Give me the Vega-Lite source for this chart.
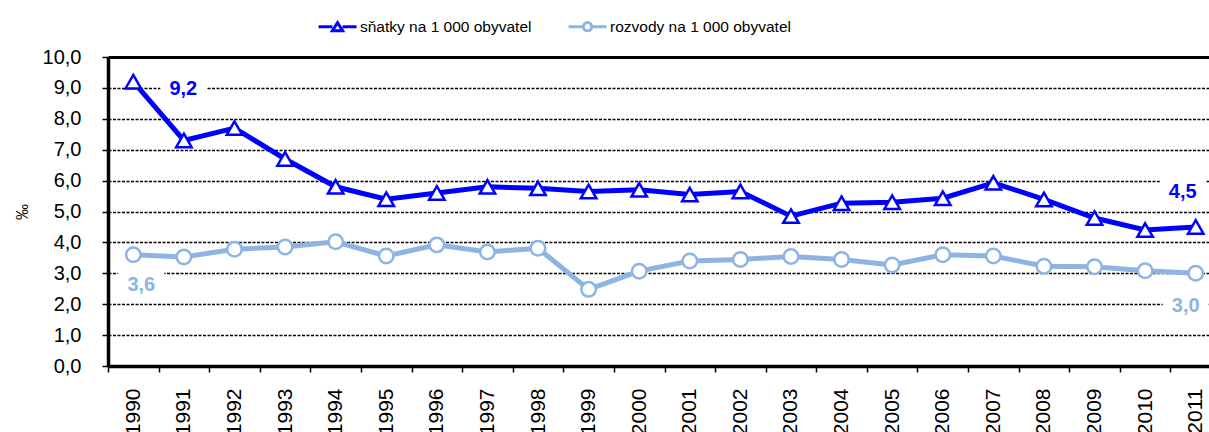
{
  "$schema": "https://vega.github.io/schema/vega-lite/v6.json",
  "autosize": {"type": "none"},
  "width": 1101,
  "height": 309,
  "padding": {"left": 108, "top": 57, "right": 0, "bottom": 66},
  "config": {
    "font": "Liberation Sans",
    "view": {"stroke": null},
    "locale": {"number": {"decimal": ",", "thousands": " ", "grouping": [3], "currency": ["", " Kč"]}}
  },
  "data": {
    "values": [
      {"year": "1990", "series": "sňatky na 1 000 obyvatel", "value": 9.2},
      {"year": "1991", "series": "sňatky na 1 000 obyvatel", "value": 7.3},
      {"year": "1992", "series": "sňatky na 1 000 obyvatel", "value": 7.7},
      {"year": "1993", "series": "sňatky na 1 000 obyvatel", "value": 6.7},
      {"year": "1994", "series": "sňatky na 1 000 obyvatel", "value": 5.8},
      {"year": "1995", "series": "sňatky na 1 000 obyvatel", "value": 5.4},
      {"year": "1996", "series": "sňatky na 1 000 obyvatel", "value": 5.6},
      {"year": "1997", "series": "sňatky na 1 000 obyvatel", "value": 5.8},
      {"year": "1998", "series": "sňatky na 1 000 obyvatel", "value": 5.75},
      {"year": "1999", "series": "sňatky na 1 000 obyvatel", "value": 5.65},
      {"year": "2000", "series": "sňatky na 1 000 obyvatel", "value": 5.7},
      {"year": "2001", "series": "sňatky na 1 000 obyvatel", "value": 5.55},
      {"year": "2002", "series": "sňatky na 1 000 obyvatel", "value": 5.65},
      {"year": "2003", "series": "sňatky na 1 000 obyvatel", "value": 4.85},
      {"year": "2004", "series": "sňatky na 1 000 obyvatel", "value": 5.27},
      {"year": "2005", "series": "sňatky na 1 000 obyvatel", "value": 5.3},
      {"year": "2006", "series": "sňatky na 1 000 obyvatel", "value": 5.43},
      {"year": "2007", "series": "sňatky na 1 000 obyvatel", "value": 5.93},
      {"year": "2008", "series": "sňatky na 1 000 obyvatel", "value": 5.39},
      {"year": "2009", "series": "sňatky na 1 000 obyvatel", "value": 4.79},
      {"year": "2010", "series": "sňatky na 1 000 obyvatel", "value": 4.4},
      {"year": "2011", "series": "sňatky na 1 000 obyvatel", "value": 4.5},
      {"year": "1990", "series": "rozvody na 1 000 obyvatel", "value": 3.6},
      {"year": "1991", "series": "rozvody na 1 000 obyvatel", "value": 3.53},
      {"year": "1992", "series": "rozvody na 1 000 obyvatel", "value": 3.78},
      {"year": "1993", "series": "rozvody na 1 000 obyvatel", "value": 3.85},
      {"year": "1994", "series": "rozvody na 1 000 obyvatel", "value": 4.02},
      {"year": "1995", "series": "rozvody na 1 000 obyvatel", "value": 3.56},
      {"year": "1996", "series": "rozvody na 1 000 obyvatel", "value": 3.92},
      {"year": "1997", "series": "rozvody na 1 000 obyvatel", "value": 3.69},
      {"year": "1998", "series": "rozvody na 1 000 obyvatel", "value": 3.81},
      {"year": "1999", "series": "rozvody na 1 000 obyvatel", "value": 2.48},
      {"year": "2000", "series": "rozvody na 1 000 obyvatel", "value": 3.07},
      {"year": "2001", "series": "rozvody na 1 000 obyvatel", "value": 3.4},
      {"year": "2002", "series": "rozvody na 1 000 obyvatel", "value": 3.45},
      {"year": "2003", "series": "rozvody na 1 000 obyvatel", "value": 3.54},
      {"year": "2004", "series": "rozvody na 1 000 obyvatel", "value": 3.45},
      {"year": "2005", "series": "rozvody na 1 000 obyvatel", "value": 3.27},
      {"year": "2006", "series": "rozvody na 1 000 obyvatel", "value": 3.6},
      {"year": "2007", "series": "rozvody na 1 000 obyvatel", "value": 3.56},
      {"year": "2008", "series": "rozvody na 1 000 obyvatel", "value": 3.23},
      {"year": "2009", "series": "rozvody na 1 000 obyvatel", "value": 3.21},
      {"year": "2010", "series": "rozvody na 1 000 obyvatel", "value": 3.08},
      {"year": "2011", "series": "rozvody na 1 000 obyvatel", "value": 3.0}
    ]
  },
  "encoding": {
    "x": {
      "field": "year", "type": "ordinal",
      "scale": {"type": "band", "paddingInner": 0, "paddingOuter": 0, "range": [0, 1113]},
      "axis": {
        "title": null, "labelAngle": -90, "labelFontSize": 21, "labelColor": "black",
        "labelPadding": 16, "tickSize": 6, "tickColor": "black", "tickWidth": 1.5,
        "domainColor": "black", "domainWidth": 3.5, "tickBand": "extent", "grid": false
      }
    },
    "y": {
      "field": "value", "type": "quantitative",
      "scale": {"domain": [0, 10], "nice": false, "zero": true},
      "axis": {
        "title": "‰", "titleFontSize": 16, "titleFontWeight": "normal", "titleColor": "black", "titlePadding": 12,
        "values": [0, 1, 2, 3, 4, 5, 6, 7, 8, 9, 10], "format": ".1f",
        "labelFontSize": 20, "labelColor": "black", "labelPadding": 21,
        "tickSize": 6, "tickColor": "black", "tickWidth": 1.5,
        "domainColor": "black", "domainWidth": 3.5,
        "grid": true, "gridColor": "black", "gridOpacity": 1,
        "gridDash": {"condition": {"test": "datum.value === 10", "value": []}, "value": [3, 1.5]},
        "gridWidth": {"condition": {"test": "datum.value === 10", "value": 3}, "value": 1.3}
      }
    }
  },
  "layer": [
    {
      "mark": {"type": "line", "strokeWidth": 5},
      "encoding": {
        "color": {
          "field": "series", "type": "nominal",
          "scale": {"domain": ["sňatky na 1 000 obyvatel", "rozvody na 1 000 obyvatel"], "range": ["#0000FF", "#8DB4E2"]},
          "legend": {
            "title": null, "orient": "none", "direction": "horizontal",
            "legendX": 209, "legendY": -51, "padding": 0,
            "labelFontSize": 15.5, "labelColor": "black", "labelOffset": 2, "labelLimit": 0,
            "columnPadding": 30, "symbolSize": 1444, "symbolStrokeWidth": 3,
            "encode": {
              "symbols": {
                "update": {
                  "shape": {"signal": "datum.value === 'sňatky na 1 000 obyvatel' ? 'M-1,0H-0.27M0.27,0H1M0,-0.22L0.27,0.2H-0.27Z' : 'M-1,0H-0.22M0.22,0H1M0.22,0A0.22,0.22 0 1,1 -0.22,0A0.22,0.22 0 1,1 0.22,0Z'"},
                  "fill": {"value": "white"},
                  "strokeWidth": {"value": 3}
                }
              }
            }
          }
        }
      }
    },
    {
      "transform": [{"filter": "datum.series === 'sňatky na 1 000 obyvatel'"}],
      "mark": {"type": "point", "shape": "M0,-0.87L1,0.87H-1Z", "size": 240, "filled": false, "fill": "white", "stroke": "#0000FF", "strokeWidth": 2.5, "opacity": 1}
    },
    {
      "transform": [{"filter": "datum.series === 'rozvody na 1 000 obyvatel'"}],
      "mark": {"type": "point", "shape": "circle", "size": 210, "filled": false, "fill": "white", "stroke": "#8DB4E2", "strokeWidth": 2.5, "opacity": 1}
    },
    {
      "transform": [{"filter": "datum.series === 'sňatky na 1 000 obyvatel' && datum.year === '1990'"}],
      "mark": {"type": "point", "shape": "M-1,-0.6H1V0.6H-1Z", "size": 2116, "filled": true, "fill": "white", "strokeWidth": 0, "opacity": 1, "xOffset": 50, "yOffset": 7}
    },
    {
      "transform": [{"filter": "datum.series === 'rozvody na 1 000 obyvatel' && datum.year === '1990'"}],
      "mark": {"type": "point", "shape": "M-1,-0.6H1V0.6H-1Z", "size": 2116, "filled": true, "fill": "white", "strokeWidth": 0, "opacity": 1, "xOffset": 8, "yOffset": 30}
    },
    {
      "transform": [{"filter": "datum.series === 'sňatky na 1 000 obyvatel' && datum.year === '2011'"}],
      "mark": {"type": "point", "shape": "M-1,-0.6H1V0.6H-1Z", "size": 2116, "filled": true, "fill": "white", "strokeWidth": 0, "opacity": 1, "xOffset": -13, "yOffset": -35}
    },
    {
      "transform": [{"filter": "datum.series === 'rozvody na 1 000 obyvatel' && datum.year === '2011'"}],
      "mark": {"type": "point", "shape": "M-1,-0.6H1V0.6H-1Z", "size": 2116, "filled": true, "fill": "white", "strokeWidth": 0, "opacity": 1, "xOffset": -10, "yOffset": 33}
    },
    {
      "transform": [{"filter": "datum.series === 'sňatky na 1 000 obyvatel' && datum.year === '1990'"}],
      "mark": {"type": "text", "fontSize": 20, "fontWeight": "bold", "color": "#0000FF", "align": "center", "baseline": "middle", "dx": 50, "dy": 7},
      "encoding": {"text": {"field": "value", "type": "quantitative", "format": ".1f"}}
    },
    {
      "transform": [{"filter": "datum.series === 'rozvody na 1 000 obyvatel' && datum.year === '1990'"}],
      "mark": {"type": "text", "fontSize": 20, "fontWeight": "bold", "color": "#8DB4E2", "align": "center", "baseline": "middle", "dx": 8, "dy": 30},
      "encoding": {"text": {"field": "value", "type": "quantitative", "format": ".1f"}}
    },
    {
      "transform": [{"filter": "datum.series === 'sňatky na 1 000 obyvatel' && datum.year === '2011'"}],
      "mark": {"type": "text", "fontSize": 20, "fontWeight": "bold", "color": "#0000FF", "align": "center", "baseline": "middle", "dx": -13, "dy": -35},
      "encoding": {"text": {"field": "value", "type": "quantitative", "format": ".1f"}}
    },
    {
      "transform": [{"filter": "datum.series === 'rozvody na 1 000 obyvatel' && datum.year === '2011'"}],
      "mark": {"type": "text", "fontSize": 20, "fontWeight": "bold", "color": "#8DB4E2", "align": "center", "baseline": "middle", "dx": -10, "dy": 33},
      "encoding": {"text": {"field": "value", "type": "quantitative", "format": ".1f"}}
    }
  ]
}
